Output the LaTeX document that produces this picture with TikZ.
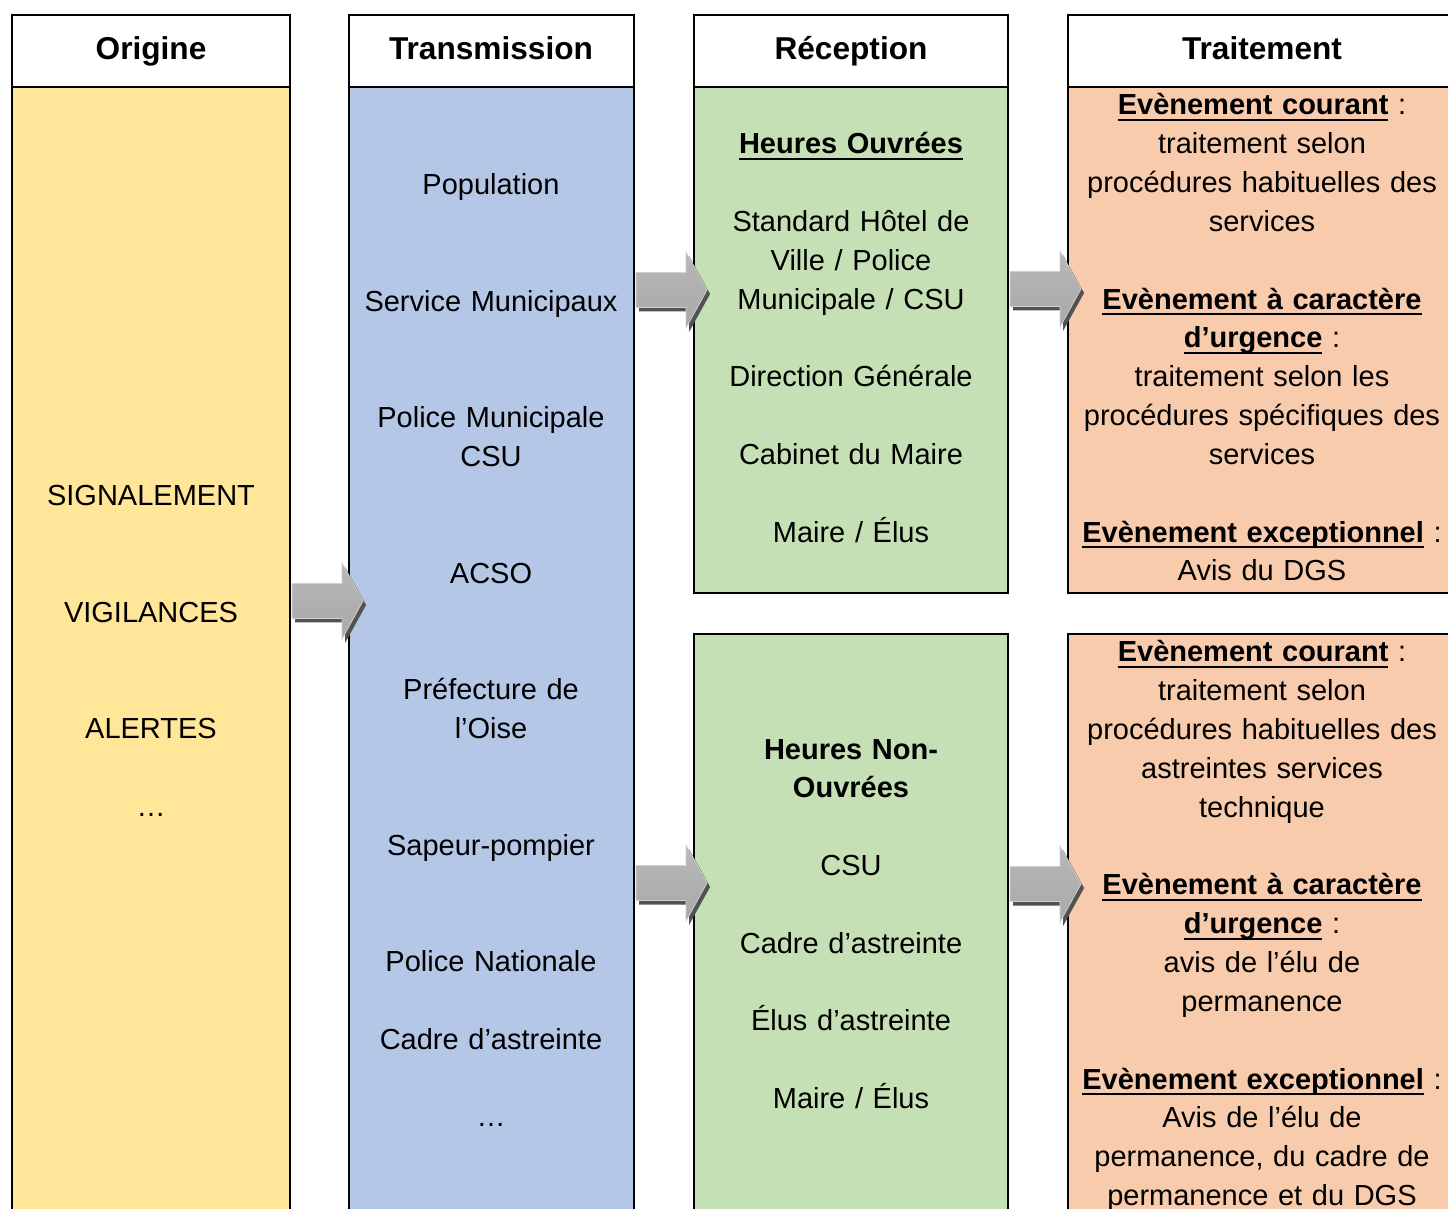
\documentclass[tikz,border=0pt]{standalone}
\usepackage{fontspec}
\setmainfont{Liberation Sans}
\usetikzlibrary{fit,calc}

\definecolor{origfill}{HTML}{FFE699}
\definecolor{transfill}{HTML}{B4C7E7}
\definecolor{recfill}{HTML}{C5E0B4}
\definecolor{traitfill}{HTML}{F8CBAD}

\tikzset{boite/.style={
    draw,
    line width=1.2pt,
    inner sep=0pt}}
\tikzset{titre/.style={
    anchor=base,
    inner sep=0pt,
    font=\bfseries\fontsize{18}{22}\selectfont}}
\tikzset{texte/.style={
    align=center,
    anchor=base,
    inner sep=0pt,
    font=\fontsize{16.5}{22.1}\selectfont}}
\tikzset{fleche/.style={
    top color=black!28,
    middle color=black!42,
    bottom color=black!34,
    draw=black!18,
    line width=0.4pt}}
\tikzset{ombre/.style={
    fill=black!68}}

% titre souligne (trait fixe sous la ligne de base)
\newcommand{\soustitre}[1]{\leavevmode{\bfseries\setbox0\hbox{#1}\rlap{\rule[-3.6pt]{\wd0}{1.3pt}}\box0}}

% grosse fleche grise qui part du bord droit d'une boite
\newcommand{\grossefleche}[2]{%
  \path (#1.east |- 0,#2) coordinate (depart);
  \begin{scope}[shift={(depart)}]
    \fill[ombre] (4,-13.5) -- (54,-13.5) -- (54,-34) -- (75,4) -- (54,42) -- (54,21.5) -- (4,21.5) -- cycle;
    \shade[fleche] (1,-17.5) -- (51,-17.5) -- (51,-38) -- (72,0) -- (51,38) -- (51,17.5) -- (1,17.5) -- cycle;
  \end{scope}}

\begin{document}
\begin{tikzpicture}[x=0.02cm,y=-0.02cm]
  \useasboundingbox (0,0) rectangle (1448,1209);
  \clip (0,0) rectangle (1448,1209);
  \fill[white] (0,0) rectangle (1448,1209);

  % colonnes
  \node[boite, fill=origfill, fit={(12,87) (290,1240)}] (orig) {};
  \node[boite, fill=white, fit={(12,15) (290,87)}] (orig-tete) {};
  \node[titre] (orig-titre) at (151,60) {Origine};

  \node[boite, fill=transfill, fit={(349,87) (634,1240)}] (trans) {};
  \node[boite, fill=white, fit={(349,15) (634,87)}] (trans-tete) {};
  \node[titre] (trans-titre) at (491,60) {Transmission};

  \node[boite, fill=recfill, fit={(694,87) (1008,593)}] (recA) {};
  \node[boite, fill=recfill, fit={(694,634) (1008,1240)}] (recB) {};
  \node[boite, fill=white, fit={(694,15) (1008,87)}] (rec-tete) {};
  \node[titre] (rec-titre) at (851,60) {Réception};

  \node[boite, fill=traitfill, fit={(1068,87) (1456,593)}] (traitA) {};
  \node[boite, fill=traitfill, fit={(1068,634) (1456,1240)}] (traitB) {};
  \node[boite, fill=white, fit={(1068,15) (1456,87)}] (trait-tete) {};
  \node[titre] (trait-titre) at (1262,60) {Traitement};

  % textes
  \node[texte, text width=5cm] (orig-txt) at (151,506)
    {SIGNALEMENT\\~\\~\\VIGILANCES\\~\\~\\ALERTES\\~\\…};

  \node[texte, text width=5.4cm] (trans-txt) at (491,195)
    {Population\\~\\~\\Service Municipaux\\~\\~\\Police Municipale\\CSU\\~\\~\\ACSO\\~\\~\\%
     Préfecture de\\l’Oise\\~\\~\\Sapeur-pompier\\~\\~\\Police Nationale\\~\\Cadre d’astreinte\\~\\…};

  \node[texte, text width=6cm] (recA-txt) at (851,154)
    {\soustitre{Heures Ouvrées}\\~\\Standard Hôtel de\\Ville / Police\\Municipale / CSU\\~\\%
     Direction Générale\\~\\Cabinet du Maire\\~\\Maire / Élus};

  \node[texte, text width=6cm] (recB-txt) at (851,759)
    {\textbf{Heures Non-}\\\textbf{Ouvrées}\\~\\CSU\\~\\Cadre d’astreinte\\~\\Élus d’astreinte\\~\\Maire / Élus};

  \node[texte, text width=7.6cm] (traitA-txt) at (1262,115)
    {\soustitre{Evènement courant} :\\traitement selon\\procédures habituelles des\\services\\~\\%
     \soustitre{Evènement à caractère}\\\soustitre{d’urgence} :\\traitement selon les\\procédures spécifiques des\\services\\~\\%
     \soustitre{Evènement exceptionnel} :\\Avis du DGS};

  \node[texte, text width=7.6cm] (traitB-txt) at (1262,662)
    {\soustitre{Evènement courant} :\\traitement selon\\procédures habituelles des\\astreintes services\\technique\\~\\%
     \soustitre{Evènement à caractère}\\\soustitre{d’urgence} :\\avis de l’élu de\\permanence\\~\\%
     \soustitre{Evènement exceptionnel} :\\Avis de l’élu de\\permanence, du cadre de\\permanence et du DGS};

  % fleches
  \grossefleche{orig}{601}
  \grossefleche{trans}{290}
  \grossefleche{trans}{883}
  \grossefleche{recA}{289}
  \grossefleche{recB}{884}
\end{tikzpicture}
\end{document}
